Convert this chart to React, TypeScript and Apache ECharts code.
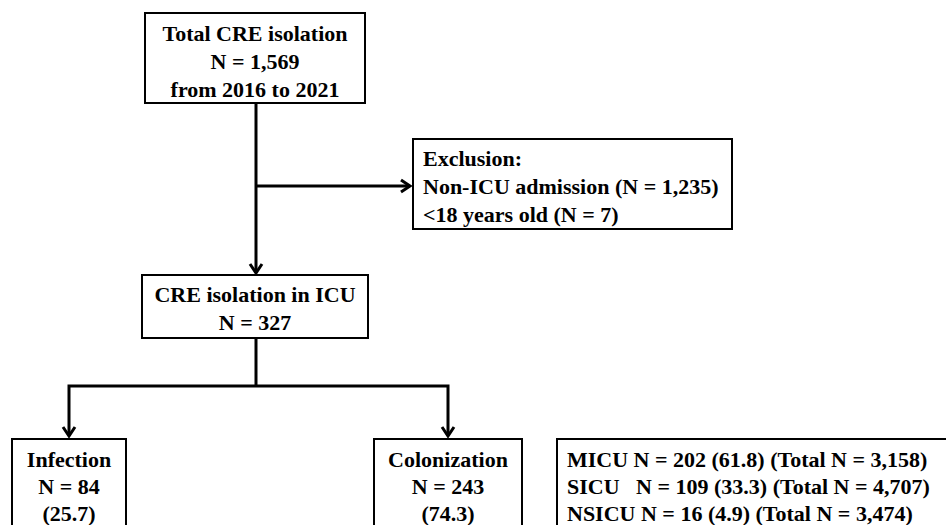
import React, { useEffect, useRef } from "react";
import * as echarts from "echarts";

const topBoxLines = ["Total CRE isolation", "N = 1,569", "from 2016 to 2021"];
const exclusionLines = ["Exclusion:", "Non-ICU admission (N = 1,235)", "<18 years old (N = 7)"];
const icuBoxLines = ["CRE isolation in ICU", "N = 327"];
const infectionLines = ["Infection", "N = 84", "(25.7)"];
const colonizationLines = ["Colonization", "N = 243", "(74.3)"];
const unitLines = [
  "MICU N = 202 (61.8) (Total N = 3,158)",
  "SICU   N = 109 (33.3) (Total N = 4,707)",
  "NSICU N = 16 (4.9) (Total N = 3,474)",
];

function box(x: number, y: number, w: number, h: number) {
  return {
    type: "rect",
    shape: { x, y, width: w, height: h },
    style: { fill: "#fff", stroke: "#000", lineWidth: 2 },
    z: 1,
  };
}

function textLines(lines: string[], x: number, y0: number, align: string, lh = 28) {
  return lines.map((t, i) => ({
    type: "text",
    x,
    y: y0 + i * lh,
    z: 3,
    style: {
      text: t,
      fontFamily: "Liberation Serif",
      fontWeight: "bold",
      fontSize: 22,
      fill: "#000",
      align,
      verticalAlign: "middle",
    },
  }));
}

function line(points: number[][]) {
  return {
    type: "polyline",
    shape: { points },
    style: { stroke: "#000", lineWidth: 3, fill: null },
    z: 2,
  };
}

function arrowDown(x: number, y: number) {
  return {
    type: "polyline",
    shape: { points: [[x - 6, y - 9], [x, y], [x + 6, y - 9]] },
    style: { stroke: "#000", lineWidth: 3, fill: null },
    z: 2,
  };
}

function arrowRight(x: number, y: number) {
  return {
    type: "polyline",
    shape: { points: [[x - 9, y - 6], [x, y], [x - 9, y + 6]] },
    style: { stroke: "#000", lineWidth: 3, fill: null },
    z: 2,
  };
}

export default function App() {
  const ref = useRef<HTMLDivElement>(null);
  useEffect(() => {
    document.body.style.margin = "0";
    const chart = echarts.init(ref.current!, null, { renderer: "svg" });
    const elements: any[] = [
      box(145, 13, 220, 90),
      ...textLines(topBoxLines, 255, 33, "center"),
      line([[256, 103], [256, 273]]),
      arrowDown(256, 273),
      line([[256, 186], [410, 186]]),
      arrowRight(410, 186),
      box(413, 139, 319, 90),
      ...textLines(exclusionLines, 423, 158, "left"),
      box(142, 275, 226, 63),
      ...textLines(icuBoxLines, 255, 294, "center"),
      line([[256, 338], [256, 386]]),
      line([[69, 436], [69, 386], [448, 386], [448, 436]]),
      arrowDown(69, 436),
      arrowDown(448, 436),
      box(12, 439, 114, 100),
      ...textLines(infectionLines, 69, 459, "center", 27),
      box(374, 439, 148, 100),
      ...textLines(colonizationLines, 448, 459, "center", 27),
      box(557, 439, 400, 100),
      ...textLines(unitLines, 567, 459, "left", 27),
    ];
    chart.setOption({
      animation: false,
      backgroundColor: "#fff",
      graphic: { elements },
    });
    return () => chart.dispose();
  }, []);
  return <div ref={ref} style={{ width: 946, height: 525 }} />;
}
